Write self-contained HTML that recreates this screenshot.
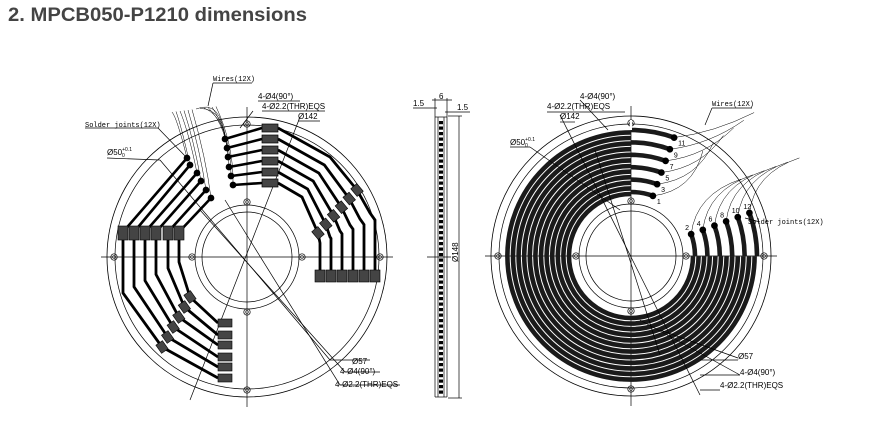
<!DOCTYPE html>
<html><head><meta charset="utf-8"><style>
html,body{margin:0;padding:0;background:#fff;width:870px;height:430px;overflow:hidden}
svg text{font-family:"Liberation Sans",sans-serif;fill:#000}
.m{font-family:"Liberation Mono",monospace !important;font-size:7px}
</style></head><body>
<svg id="s" width="870" height="430" viewBox="0 0 870 430" xmlns="http://www.w3.org/2000/svg">
<text x="8" y="21" style="font-size:19px;font-weight:bold;fill:#444" textLength="299" lengthAdjust="spacingAndGlyphs">2. MPCB050-P1210 dimensions</text>
<g id="g" fill="none" stroke="#000" stroke-width="0.7"></g>
<g font-size="8">
<text x="258" y="99">4-Ø4(90°)</text>
<text x="262" y="109">4-Ø2.2(THR)EQS</text>
<text x="298" y="119">Ø142</text>
<text x="107" y="155">Ø50<tspan font-size="5" dy="-4">+0.1</tspan><tspan font-size="5" dx="-10" dy="6">0</tspan></text>
<text x="352" y="364">Ø57</text>
<text x="340" y="374">4-Ø4(90°)</text>
<text x="335" y="387">4-Ø2.2(THR)EQS</text>
<text x="580" y="99">4-Ø4(90°)</text>
<text x="547" y="109">4-Ø2.2(THR)EQS</text>
<text x="560" y="119">Ø142</text>
<text x="510" y="145">Ø50<tspan font-size="5" dy="-4">+0.1</tspan><tspan font-size="5" dx="-10" dy="6">0</tspan></text>
<text x="738" y="359">Ø57</text>
<text x="740" y="375">4-Ø4(90°)</text>
<text x="720" y="388">4-Ø2.2(THR)EQS</text>
<text x="413" y="106">1.5</text>
<text x="457" y="110">1.5</text>
<text x="439" y="99">6</text>
<text x="0" y="0" transform="translate(458,262) rotate(-90)">Ø148</text>
</g>
<text class="m" x="213" y="81">Wires(12X)</text>
<text class="m" x="85" y="127">Solder joints(12X)</text>
<text class="m" x="712" y="106">Wires(12X)</text>
<text class="m" x="748" y="224">Solder joints(12X)</text>
</svg>
<script>
var g=document.getElementById('g'),NS='http://www.w3.org/2000/svg';
function el(t,a){var e=document.createElementNS(NS,t);for(var k in a)e.setAttribute(k,a[k]);g.appendChild(e);return e;}
function L(x1,y1,x2,y2,w,c){el('line',{x1:x1,y1:y1,x2:x2,y2:y2,'stroke-width':w||0.7,stroke:c||'#000'});}
function C(cx,cy,r,w){el('circle',{cx:cx,cy:cy,r:r,'stroke-width':w||0.7});}
function P(d,w,c){el('path',{d:d,'stroke-width':w||0.7,stroke:c||'#000'});}
function hole(x,y){C(x,y,3.2);C(x,y,1.6,0.5);}
function base(cx,cy){
 C(cx,cy,140,0.8);C(cx,cy,132);C(cx,cy,52);C(cx,cy,45);
 L(cx-146,cy,cx+146,cy,0.7);L(cx,cy-150,cx,cy+150,0.7);
 [[55,0],[-55,0],[0,55],[0,-55],[133,0],[-133,0],[0,133],[0,-133]].forEach(function(p){hole(cx+p[0],cy+p[1]);});
}
var cx=247,cy=257;base(cx,cy);
// left leaders
L(160,160,330,360);L(200,210,345,372);L(300,117,190,400);L(225,200,340,385);
L(107,158,160,160);L(85,128,158,128);L(158,128,187,158);L(345,372,380,372);L(330,360,370,360);L(340,385,400,385);
L(258,101,300,101);L(262,111,325,111);L(298,121,320,121);L(253,111,240,128);
// top group traces
function lerp(a,b,t){return a+(b-a)*t;}
var A=[[278,128],[330,157],[357,190],[370,213],[375,220],[375,278]],B=[[278,183],[302,197],[318,233],[320,243],[320,243],[320,278]];
for(var i=0;i<6;i++){var t=i/5,yd=[139,148,157,167,176,185][i],xd=[225,227,228,229,231,233][i];
 var py=128+11*i;
 L(xd,yd,262,py,2.6);
 el('circle',{cx:xd,cy:yd,r:3,fill:'#000'});
 var d='M278 '+py;var pts=[];
 for(var j=1;j<6;j++){var x=lerp(A[j][0],B[j][0],t),y=lerp(A[j][1],B[j][1],t);pts.push([x,y]);d+=' L'+x+' '+y;}
 P(d,2.8);
 el('rect',{x:262,y:py-4,width:16,height:8,fill:'#444','stroke-width':0.7});
 var m=pts[1];el('rect',{x:m[0]-5,y:m[1]-4,width:10,height:8,fill:'#444','stroke-width':0.6,transform:'rotate(50 '+m[0]+' '+m[1]+')'});
 var bx=pts[4][0];el('rect',{x:bx-5,y:270,width:10,height:12,fill:'#444','stroke-width':0.6});
}
// left group
var D=[[187,158],[190,165],[197,173],[201,181],[206,190],[211,198]],PX=[123,134,145,156,168,179],BY=[378,367,357,345,335,323];
var LA=[[125,293],[162,347]],LB=[[179,262],[190,297]];
for(var i=0;i<6;i++){var t=i/5;
 L(D[i][0],D[i][1],PX[i],232,2.6);el('circle',{cx:D[i][0],cy:D[i][1],r:3,fill:'#000'});
 var x1=PX[i],y1=lerp(293,262,t),x2=lerp(162,190,t),y2=lerp(347,297,t);
 P('M'+x1+' 232 L'+x1+' '+y1+' L'+x2+' '+y2+' L218 '+BY[i],2.8);
 el('rect',{x:x1-5,y:226,width:10,height:14,fill:'#444','stroke-width':0.6});
 el('rect',{x:x2-5,y:y2-4,width:10,height:8,fill:'#444','stroke-width':0.6,transform:'rotate(55 '+x2+' '+y2+')'});
 el('rect',{x:218,y:BY[i]-4,width:14,height:8,fill:'#444','stroke-width':0.6});
}
// left wires
for(var i=0;i<12;i++){var sx=(i<6?D[i][0]:[225,227,228,229,231,233][i-6]),sy=(i<6?D[i][1]:[139,148,157,167,176,185][i-6]);
 P('M'+sx+' '+sy+' Q'+(sx-10+i)+' '+(sy-40)+' '+(172+i*4)+' '+(112-i*0.5),0.5);}
L(213,83,252,83);L(213,83,208,106);
// side view
L(435,117,435,397);L(447,117,447,397);L(438,117,438,397);L(444,117,444,397);
L(435,117,447,117);L(435,397,447,397);
for(var y=121;y<395;y+=5.5)el('rect',{x:439,y:y,width:4,height:3.2,fill:'#000','stroke-width':0});
L(427,257,451,257);L(448,116,462,116);L(448,398,462,398);L(459,116,459,398);
L(432,100,452,100);L(413,108,437,108);L(445,112,470,112);L(435,98,435,117);L(447,98,447,117);
// right view
var rx=631,ry=256;base(rx,ry);
function arc(r,a1,a2,w,c){ // angles degrees, math orientation, a1->a2 ccw
 var p1=[rx+r*Math.cos(a1*Math.PI/180),ry-r*Math.sin(a1*Math.PI/180)],p2=[rx+r*Math.cos(a2*Math.PI/180),ry-r*Math.sin(a2*Math.PI/180)];
 var large=((a2-a1+360)%360)>180?1:0;
 P('M'+p1[0]+' '+p1[1]+' A'+r+' '+r+' 0 '+large+' 0 '+p2[0]+' '+p2[1],w,c);}
for(var k=0;k<12;k++){arc(62+k*5.6,90,359.9,4.6,'#1a1a1a');}
for(var j=0;j<6;j++){var r=64+j*12.4;arc(r,70,90,4.6,'#1a1a1a');arc(r,0,20,4.6,'#1a1a1a');
 var a=70*Math.PI/180,ex=rx+r*Math.cos(a),ey=ry-r*Math.sin(a);el('circle',{cx:ex,cy:ey,r:3,fill:'#000'});
 var a2=20*Math.PI/180,fx=rx+r*Math.cos(a2),fy=ry-r*Math.sin(a2);el('circle',{cx:fx,cy:fy,r:3,fill:'#000'});
 var t1=el('text',{x:ex+4,y:ey+8,'font-size':7,stroke:'none',fill:'#000'});t1.textContent=String(2*j+1);
 var t2=el('text',{x:fx-6,y:fy-4,'font-size':7,stroke:'none',fill:'#000'});t2.textContent=String(2*j+2);
 P('M'+ex+' '+ey+' Q'+(ex+40)+' '+(ey-5)+' '+(ex+50+j*6)+' '+(ey-45+j*4),0.5);
 P('M'+fx+' '+fy+' Q'+(fx+5)+' '+(fy-40)+' '+(fx+50)+' '+(fy-55),0.5);
}
el('rect',{x:rx-1,y:120,width:2,height:10,fill:'#fff','stroke-width':0});
L(712,108,752,108);L(712,108,705,125);L(745,218,760,222);
L(560,115,700,395);L(595,150,660,355);L(580,100,608,130);L(547,112,625,112);L(560,122,575,122);
L(510,147,530,147);L(530,147,620,210);L(700,360,738,360);L(700,375,740,375);L(700,390,720,390);
L(660,330,738,358);L(640,320,740,375);
</script>
</body></html>
